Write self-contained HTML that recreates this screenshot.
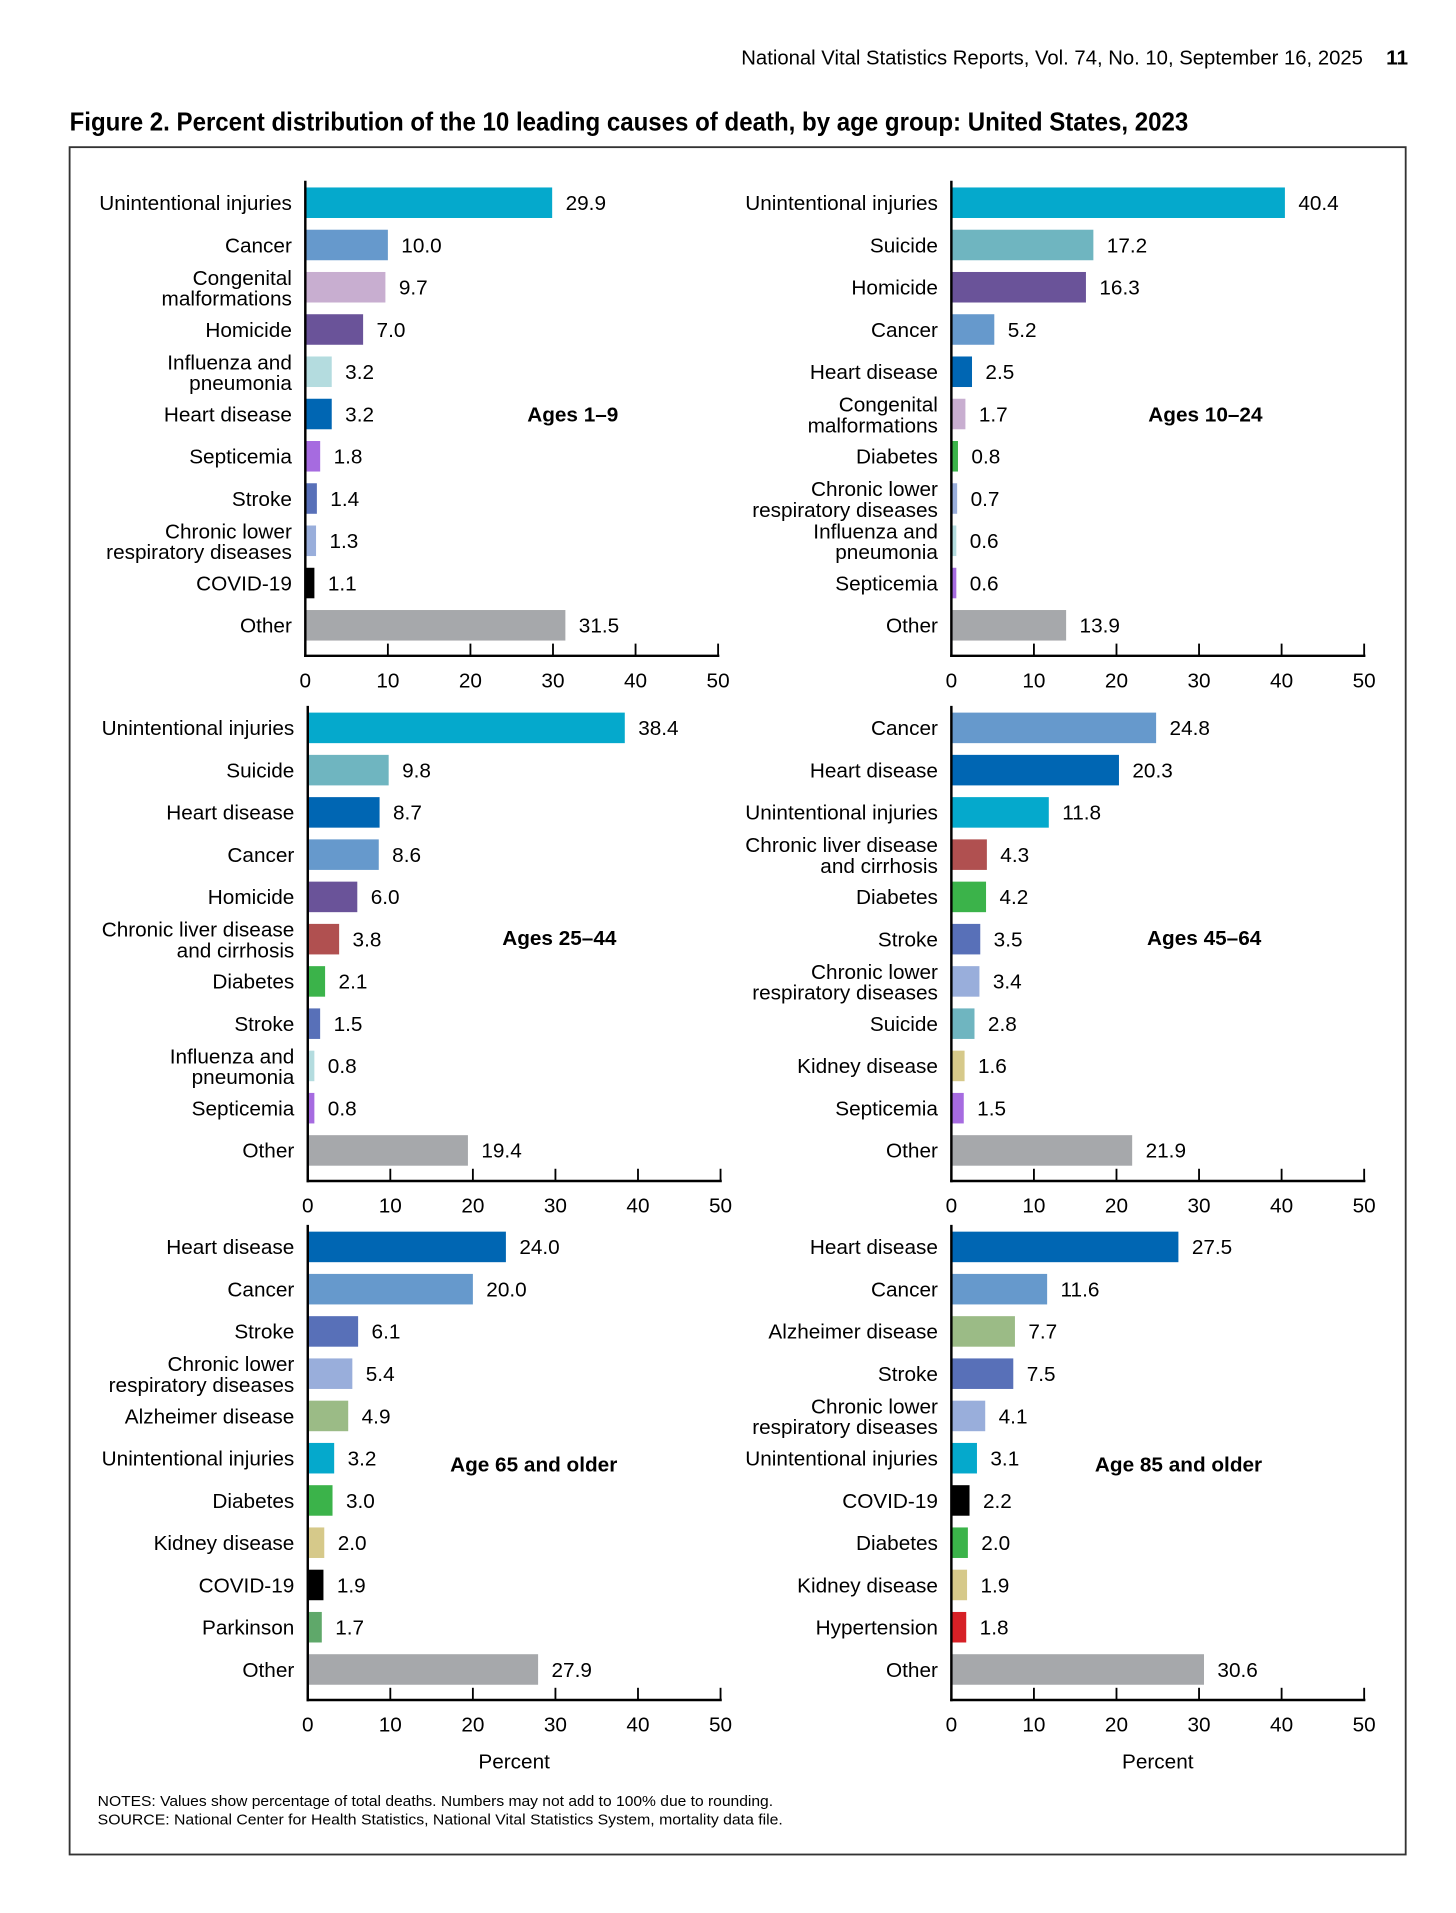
<!DOCTYPE html>
<html><head><meta charset="utf-8"><style>
html,body{margin:0;padding:0;background:#fff;}
svg{display:block;}
text{font-family:"Liberation Sans",Arial,sans-serif;fill:#000;}
</style></head><body>
<svg id="fig" width="1456" height="1913" viewBox="0 0 1192.2 1566.4" xmlns="http://www.w3.org/2000/svg">
<text x="607" y="53" font-size="17" textLength="509" lengthAdjust="spacingAndGlyphs">National Vital Statistics Reports, Vol. 74, No. 10, September 16, 2025</text>
<text x="1135" y="53" font-size="17" font-weight="bold" textLength="18" lengthAdjust="spacingAndGlyphs">11</text>
<text x="57" y="107" font-size="21.5" font-weight="bold" textLength="916" lengthAdjust="spacingAndGlyphs">Figure 2. Percent distribution of the 10 leading causes of death, by age group: United States, 2023</text>
<rect x="57" y="120.5" width="1094" height="1398" fill="none" stroke="#333" stroke-width="1.5"/>
<g id="panels"></g>
<text x="80" y="1479" font-size="12" textLength="553" lengthAdjust="spacingAndGlyphs">NOTES: Values show percentage of total deaths. Numbers may not add to 100% due to rounding.</text>
<text x="80" y="1494" font-size="12" textLength="561" lengthAdjust="spacingAndGlyphs">SOURCE: National Center for Health Statistics, National Vital Statistics System, mortality data file.</text>
</svg>
<script>
const colors = {"Unintentional injuries":"#05a9cc","Cancer":"#6699cc","Congenital malformations":"#c8aed0","Homicide":"#6a5399","Influenza and pneumonia":"#b4dcdf","Heart disease":"#0066b3","Septicemia":"#a66be0","Stroke":"#5870b8","Chronic lower respiratory diseases":"#99aedb","COVID-19":"#000000","Other":"#a6a8ab","Suicide":"#6fb5c0","Diabetes":"#3bb34a","Chronic liver disease and cirrhosis":"#b05050","Kidney disease":"#d6c98a","Alzheimer disease":"#9bbb86","Parkinson":"#5fa86a","Hypertension":"#d62026"};
const ticks = [0,10,20,30,40,50];
const cats1 = ["Unintentional injuries","Cancer","Congenital malformations","Homicide","Influenza and pneumonia","Heart disease","Septicemia","Stroke","Chronic lower respiratory diseases","COVID-19","Other"];
const vals1 = [29.9,10.0,9.7,7.0,3.2,3.2,1.8,1.4,1.3,1.1,31.5];
const cats2 = ["Unintentional injuries","Suicide","Homicide","Cancer","Heart disease","Congenital malformations","Diabetes","Chronic lower respiratory diseases","Influenza and pneumonia","Septicemia","Other"];
const vals2 = [40.4,17.2,16.3,5.2,2.5,1.7,0.8,0.7,0.6,0.6,13.9];
const cats3 = ["Unintentional injuries","Suicide","Heart disease","Cancer","Homicide","Chronic liver disease and cirrhosis","Diabetes","Stroke","Influenza and pneumonia","Septicemia","Other"];
const vals3 = [38.4,9.8,8.7,8.6,6.0,3.8,2.1,1.5,0.8,0.8,19.4];
const cats4 = ["Cancer","Heart disease","Unintentional injuries","Chronic liver disease and cirrhosis","Diabetes","Stroke","Chronic lower respiratory diseases","Suicide","Kidney disease","Septicemia","Other"];
const vals4 = [24.8,20.3,11.8,4.3,4.2,3.5,3.4,2.8,1.6,1.5,21.9];
const cats5 = ["Heart disease","Cancer","Stroke","Chronic lower respiratory diseases","Alzheimer disease","Unintentional injuries","Diabetes","Kidney disease","COVID-19","Parkinson","Other"];
const vals5 = [24.0,20.0,6.1,5.4,4.9,3.2,3.0,2.0,1.9,1.7,27.9];
const cats6 = ["Heart disease","Cancer","Alzheimer disease","Stroke","Chronic lower respiratory diseases","Unintentional injuries","COVID-19","Diabetes","Kidney disease","Hypertension","Other"];
const vals6 = [27.5,11.6,7.7,7.5,4.1,3.1,2.2,2.0,1.9,1.8,30.6];
const titles = ["Ages 1–9","Ages 10–24","Ages 25–44","Ages 45–64","Age 65 and older","Age 85 and older"];
const split = {"Congenital malformations":["Congenital","malformations"],"Influenza and pneumonia":["Influenza and","pneumonia"],"Chronic lower respiratory diseases":["Chronic lower","respiratory diseases"],"Chronic liver disease and cirrhosis":["Chronic liver disease","and cirrhosis"]};
const NS="http://www.w3.org/2000/svg";
const root=document.getElementById('panels');
function mk(tag,attrs,parent){const e=document.createElementNS(NS,tag);for(const k in attrs)e.setAttribute(k,attrs[k]);(parent||root).appendChild(e);return e;}
const layouts=[
 {x0:250,y0:166,title:[469,339],cats:cats1,vals:vals1},
 {x0:779,y0:166,title:[987,339],cats:cats2,vals:vals2},
 {x0:252,y0:596,title:[458,768],cats:cats3,vals:vals3},
 {x0:779,y0:596,title:[986,768],cats:cats4,vals:vals4},
 {x0:252,y0:1021,title:[437,1199],cats:cats5,vals:vals5},
 {x0:779,y0:1021,title:[965,1199],cats:cats6,vals:vals6}];
const W=338, step=34.6, bh=25, FS=17;
layouts.forEach((L,pi)=>{
 const g=mk('g',{});
 
 
 const xs=v=>L.x0+v/50*W;
 const ys=i=>L.y0+i*step;
 const axisY=ys(10)+25;
 L.cats.forEach((c,i)=>{
  const r=mk('rect',{x:xs(0),y:ys(i)-bh/2,width:xs(L.vals[i])-xs(0),height:bh,fill:colors[c]},g);
  
  
  const t=mk('text',{x:xs(L.vals[i])+11,y:ys(i)+6,'font-size':FS},g);
  t.textContent=L.vals[i].toFixed(1);
  
  
  const lines=split[c]||[c];
  const lx=L.x0-11;
  lines.forEach((ln,j)=>{
   const off=lines.length===1?6:(j===0?-2:15);
   const tt=mk('text',{x:lx,y:ys(i)+off,'font-size':FS,'text-anchor':'end'},g);
   tt.textContent=ln;
   
   
  });
 });
 const ya=mk('line',{x1:L.x0,x2:L.x0,y1:L.y0-18,y2:axisY+1,stroke:'#000','stroke-width':2},g);
 
 
 const xa=mk('line',{x1:L.x0-1,x2:xs(50)+1,y1:axisY,y2:axisY,stroke:'#000','stroke-width':2},g);
 
 
 ticks.forEach(tv=>{
  const tk=mk('line',{x1:xs(tv),x2:xs(tv),y1:axisY,y2:axisY-10,stroke:'#000','stroke-width':1.5},g);
  
  
  const tl=mk('text',{x:xs(tv),y:axisY+26,'font-size':FS,'text-anchor':'middle'},g);
  tl.textContent=tv;
  
  
 });
 const pt=mk('text',{x:L.title[0],y:L.title[1]+6,'font-size':FS,'font-weight':'bold','text-anchor':'middle'},g);
 pt.textContent=titles[pi];
 
 
 if(pi>=4){
  const xt=mk('text',{x:xs(25),y:axisY+56,'font-size':FS,'text-anchor':'middle'},g);
  xt.textContent='Percent';
  
  
 }
});
</script>
</body></html>
